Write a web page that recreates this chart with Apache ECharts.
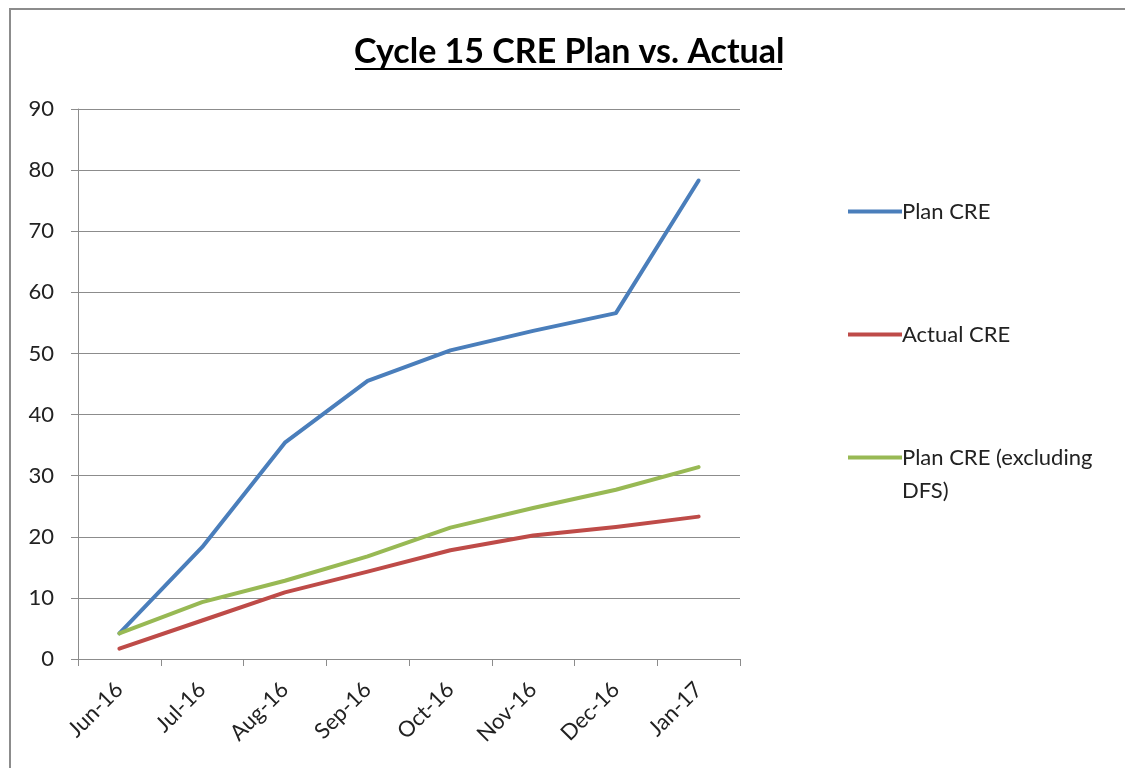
<!DOCTYPE html>
<html>
<head>
<meta charset="utf-8">
<script src="https://cdn.jsdelivr.net/npm/echarts@6/dist/echarts.min.js"></script>
<style>
  html, body { margin: 0; padding: 0; background: #fff; }
  #chart { width: 1125px; height: 768px; }
</style>
</head>
<body>
<div id="chart"></div>
<script>
// 月份
let months = ['Jun-16', 'Jul-16', 'Aug-16', 'Sep-16', 'Oct-16', 'Nov-16', 'Dec-16', 'Jan-17'];
let planCre = [4.2, 18.3, 35.4, 45.5, 50.5, 53.7, 56.6, 78.3];
let actualCre = [1.7, 6.3, 10.9, 14.3, 17.8, 20.2, 21.6, 23.3];
let planExDfs = [4.2, 9.3, 12.8, 16.8, 21.5, 24.7, 27.7, 31.4];
let seriesNames = ['Plan CRE', 'Actual CRE', 'Plan CRE (excluding DFS)'];
let seriesColors = ['#4a7ebb', '#be4b48', '#98b954'];

let font = 'Lato, "Open Sans", sans-serif';
let chart = echarts.init(document.getElementById('chart'));

function legendAt(i, top, text) {
    return {
        orient: 'vertical',
        left: 843,
        top: top,
        icon: 'rect',
        itemWidth: 54,
        itemHeight: 4,
        itemGap: 0,
        selectedMode: false,
        data: [{name: seriesNames[i], itemStyle: {color: seriesColors[i]}}],
        formatter: function () { return text; },
        textStyle: {fontFamily: font, fontSize: 22, color: '#222', lineHeight: 33, padding: [0, 0, 0, -5]}
    };
}

let option = {
    animation: false,
    title: {
        text: 'Cycle 15 CRE Plan vs. Actual',
        left: 349,
        top: 30,
        textStyle: {fontFamily: font, fontSize: 34, fontWeight: 'bold', color: '#000'}
    },
    graphic: [
        // 外框
        {type: 'rect', shape: {x: 10, y: 9, width: 1300, height: 900}, style: {fill: 'none', stroke: '#8c8c8c', lineWidth: 2}},
        // 标题下划线
        {type: 'line', shape: {x1: 355, y1: 69, x2: 782, y2: 69}, style: {stroke: '#000', lineWidth: 2}}
    ],
    legend: [
        legendAt(0, 190, seriesNames[0]),
        legendAt(1, 313, seriesNames[1]),
        legendAt(2, 403, ' \nPlan CRE (excluding\nDFS)')
    ],
    grid: {left: 78, right: 385, top: 109, bottom: 109, containLabel: false},
    xAxis: {
        type: 'category',
        data: months,
        boundaryGap: true,
        axisLine: {lineStyle: {color: '#8c8c8c', width: 1}},
        axisTick: {show: true, length: 7, lineStyle: {color: '#8c8c8c'}},
        axisLabel: {rotate: 45, margin: 27, fontFamily: font, fontSize: 22, color: '#222'}
    },
    yAxis: {
        type: 'value',
        min: 0,
        max: 90,
        interval: 10,
        axisLine: {show: true, lineStyle: {color: '#8c8c8c', width: 1}},
        axisTick: {show: true, length: 7, lineStyle: {color: '#8c8c8c'}},
        splitLine: {lineStyle: {color: '#8c8c8c', width: 1}},
        axisLabel: {margin: 24, fontFamily: font, fontSize: 22, color: '#222'}
    },
    series: [
        {name: seriesNames[0], type: 'line', data: planCre},
        {name: seriesNames[1], type: 'line', data: actualCre},
        {name: seriesNames[2], type: 'line', data: planExDfs}
    ].map(function (s, i) {
        s.symbol = 'none';
        s.color = seriesColors[i];
        s.lineStyle = {width: 4, color: seriesColors[i], cap: 'round', join: 'round'};
        return s;
    })
};
chart.setOption(option);
</script>
</body>
</html>
